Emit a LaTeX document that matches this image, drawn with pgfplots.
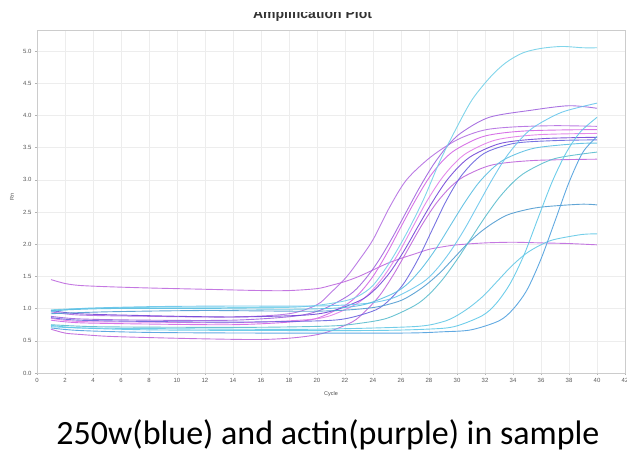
\documentclass[border=0pt]{standalone}
\usepackage{fontspec}
\setmainfont{Liberation Sans}
\newfontfamily\capfont{Carlito}
\usepackage{pgfplots}
\pgfplotsset{compat=1.18}
\definecolor{cA}{RGB}{115,208,232}
\definecolor{cB}{RGB}{105,198,236}
\definecolor{cC}{RGB}{80,155,208}
\definecolor{cD}{RGB}{100,200,230}
\definecolor{cE}{RGB}{90,190,225}
\definecolor{cF}{RGB}{90,188,205}
\definecolor{cG}{RGB}{95,200,232}
\definecolor{cH}{RGB}{80,160,222}
\definecolor{pA}{RGB}{180,110,225}
\definecolor{pB}{RGB}{190,105,222}
\definecolor{pC}{RGB}{160,100,222}
\definecolor{pD}{RGB}{210,100,228}
\definecolor{pE}{RGB}{225,125,232}
\definecolor{pF}{RGB}{115,70,215}
\definecolor{pG}{RGB}{190,100,218}
\definecolor{pH}{RGB}{105,100,222}
\begin{document}
\begin{tikzpicture}[x=1pt,y=1pt]
\begin{axis}[at={(0,0)}, anchor=south west, scale only axis,
  width=588pt, height=343pt,
  xmin=0, xmax=42, ymin=0, ymax=5.326,
  xtick={0,2,...,42}, ytick={0,0.5,1,1.5,2,2.5,3,3.5,4,4.5,5},
  xtick pos=bottom, ytick pos=left,
  grid=major, grid style={draw=gray!14, line width=0.5pt},
  axis line style={draw=gray!40},
  tick style={draw=gray!60, line width=0.4pt}, tick align=outside, major tick length=2pt,
  tick label style={font=\fontsize{6}{7}\selectfont, text=black!65},
  /pgf/number format/assume math mode=true,
  yticklabel style={/pgf/number format/.cd, fixed, fixed zerofill, precision=1},
  every axis plot/.append style={line width=0.9pt, smooth, mark=none, opacity=0.9},
  ]
% actin (purple)
\addplot[pA] coordinates {(1,0.95)(3,0.9)(8,0.88)(14,0.87)(18,0.92)(20,1.06)(21,1.25)(22.1,1.49)(23,1.75)(24,2.07)(25.2,2.58)(26.4,3.0)(28.1,3.35)(30,3.62)(31.9,3.77)(34,3.82)(37,3.84)(40,3.83)};
\addplot[pB] coordinates {(1,1.45)(2,1.39)(3,1.36)(5,1.34)(8,1.32)(12,1.30)(16,1.28)(18,1.28)(20,1.31)(21,1.36)(22,1.42)(23,1.5)(24,1.6)(25,1.7)(26,1.78)(27,1.85)(28,1.92)(29,1.96)(30,1.99)(32,2.02)(34,2.03)(36,2.02)(38,2.01)(40,1.99)};
\addplot[pC] coordinates {(1,0.88)(3,0.84)(8,0.82)(14,0.82)(18.3,0.88)(20.3,0.98)(22.3,1.21)(23.3,1.42)(24.3,1.71)(25.3,2.07)(26.3,2.47)(27.3,2.87)(28.3,3.23)(29.3,3.52)(30.3,3.73)(32.3,3.97)(35.3,4.08)(38,4.15)(40,4.11)};
\addplot[pD] coordinates {(1,0.82)(3,0.78)(8,0.76)(14,0.75)(18,0.79)(20,0.85)(22,1.05)(23,1.23)(24,1.50)(25,1.86)(26,2.27)(27,2.67)(28,3.03)(29,3.30)(30,3.48)(32,3.68)(35,3.76)(40,3.78)};
\addplot[pE] coordinates {(1,0.85)(3,0.8)(8,0.79)(14,0.78)(18.8,0.82)(20.8,0.88)(22.8,1.07)(23.8,1.25)(24.8,1.51)(25.8,1.85)(26.8,2.25)(27.8,2.65)(28.8,2.99)(29.8,3.25)(30.8,3.43)(32.8,3.62)(35.8,3.70)(40,3.72)};
\addplot[pF] coordinates {(1,0.97)(3,0.92)(8,0.89)(14,0.87)(19.2,0.9)(21.2,0.97)(23.2,1.14)(24.2,1.31)(25.2,1.56)(26.2,1.89)(27.2,2.27)(28.2,2.64)(29.2,2.97)(30.2,3.22)(31.2,3.39)(33.2,3.57)(36.2,3.64)(40,3.66)};
\addplot[pG] coordinates {(1,0.68)(2,0.62)(3,0.6)(5,0.57)(8,0.55)(12,0.53)(16,0.52)(18.5,0.55)(20.5,0.62)(22.5,0.79)(23.5,0.97)(24.5,1.21)(25.5,1.54)(26.5,1.92)(27.5,2.30)(28.5,2.63)(29.5,2.88)(30.5,3.05)(32.5,3.23)(35.5,3.30)(40,3.32)};
\addplot[pH] coordinates {(1,0.86)(3,0.82)(8,0.8)(14,0.79)(20.2,0.81)(22.2,0.85)(24.2,0.98)(25.2,1.14)(26.2,1.39)(27.2,1.76)(28.2,2.21)(29.2,2.66)(30.2,3.03)(31.2,3.28)(32.2,3.44)(34.2,3.57)(37.2,3.61)(40,3.62)};
% 250w (blue)
\addplot[cA] coordinates {(1,0.98)(3,1.0)(8,1.02)(14,1.02)(18,1.02)(20,1.05)(22,1.12)(23,1.2)(24,1.36)(25.2,1.72)(26.4,2.17)(27.6,2.69)(28.8,3.3)(30,3.82)(31.1,4.25)(32.4,4.6)(33.5,4.82)(34.7,4.97)(36,5.04)(37.5,5.07)(39,5.05)(40,5.05)};
\addplot[cB] coordinates {(1,0.95)(3,1.0)(8,1.03)(14,1.04)(20,1.04)(23.5,1.08)(25.5,1.17)(27.5,1.40)(28.5,1.60)(29.5,1.88)(30.5,2.22)(31.5,2.61)(32.5,3.00)(33.5,3.35)(34.5,3.62)(35.5,3.82)(37.5,4.05)(40,4.19)};
\addplot[cC] coordinates {(1,0.92)(5,0.95)(12,0.97)(20,0.96)(23.8,1.01)(25.8,1.11)(26.8,1.22)(27.8,1.37)(28.8,1.56)(29.8,1.79)(30.8,2.02)(31.8,2.21)(32.8,2.36)(33.8,2.47)(35.8,2.57)(38.8,2.62)(40,2.61)};
\addplot[cD] coordinates {(1,0.72)(3,0.7)(8,0.69)(14,0.68)(20,0.68)(26.9,0.72)(28.9,0.79)(29.9,0.88)(30.9,1.02)(31.9,1.20)(32.9,1.43)(33.9,1.66)(34.9,1.85)(35.9,1.98)(36.9,2.07)(38.9,2.15)(40,2.16)};
\addplot[cE] coordinates {(1,0.97)(5,1.0)(12,1.0)(18,0.99)(21.5,1.01)(23.5,1.07)(25.5,1.24)(26.5,1.39)(27.5,1.63)(28.5,1.93)(29.5,2.28)(30.5,2.63)(31.5,2.94)(32.5,3.17)(33.5,3.33)(35.5,3.49)(38.5,3.56)(40,3.57)};
\addplot[cF] coordinates {(1,0.75)(4,0.72)(10,0.71)(16,0.71)(21,0.73)(23,0.77)(25,0.85)(27,1.05)(28,1.22)(29,1.46)(30,1.76)(31,2.09)(32,2.42)(33,2.72)(34,2.96)(35,3.13)(37,3.33)(40,3.43)};
\addplot[cG] coordinates {(1,0.74)(3,0.7)(8,0.67)(16,0.66)(24,0.66)(27.8,0.68)(29.8,0.72)(31.8,0.89)(32.8,1.08)(33.8,1.39)(34.8,1.84)(35.8,2.41)(36.8,2.97)(37.8,3.42)(38.8,3.74)(40,3.97)};
\addplot[cH] coordinates {(1,0.7)(3,0.66)(8,0.63)(16,0.62)(26,0.62)(29,0.64)(31,0.67)(33,0.81)(34,0.99)(35,1.29)(36,1.77)(37,2.36)(38,2.96)(39,3.43)(40,3.67)};
\end{axis}
\node[font=\fontsize{5.5}{6}\selectfont, text=black!70] at (294,-21) {Cycle};
\node[font=\fontsize{5.5}{6}\selectfont, text=black!70, rotate=90] at (-25,176) {Rn};
\begin{scope}
\clip (0,345) rectangle (588,360.5);
\node[anchor=base, font=\bfseries\fontsize{14}{16}\selectfont, text=black!80] at (275.5,354) {Amplification Plot};
\end{scope}
\node[anchor=base, font=\capfont\fontsize{34}{40}\selectfont] at (291,-72) {250w(blue) and actin(purple) in sample};
\pgfresetboundingbox
\useasboundingbox (-37,-81) rectangle (590,373);
\end{tikzpicture}
\end{document}
